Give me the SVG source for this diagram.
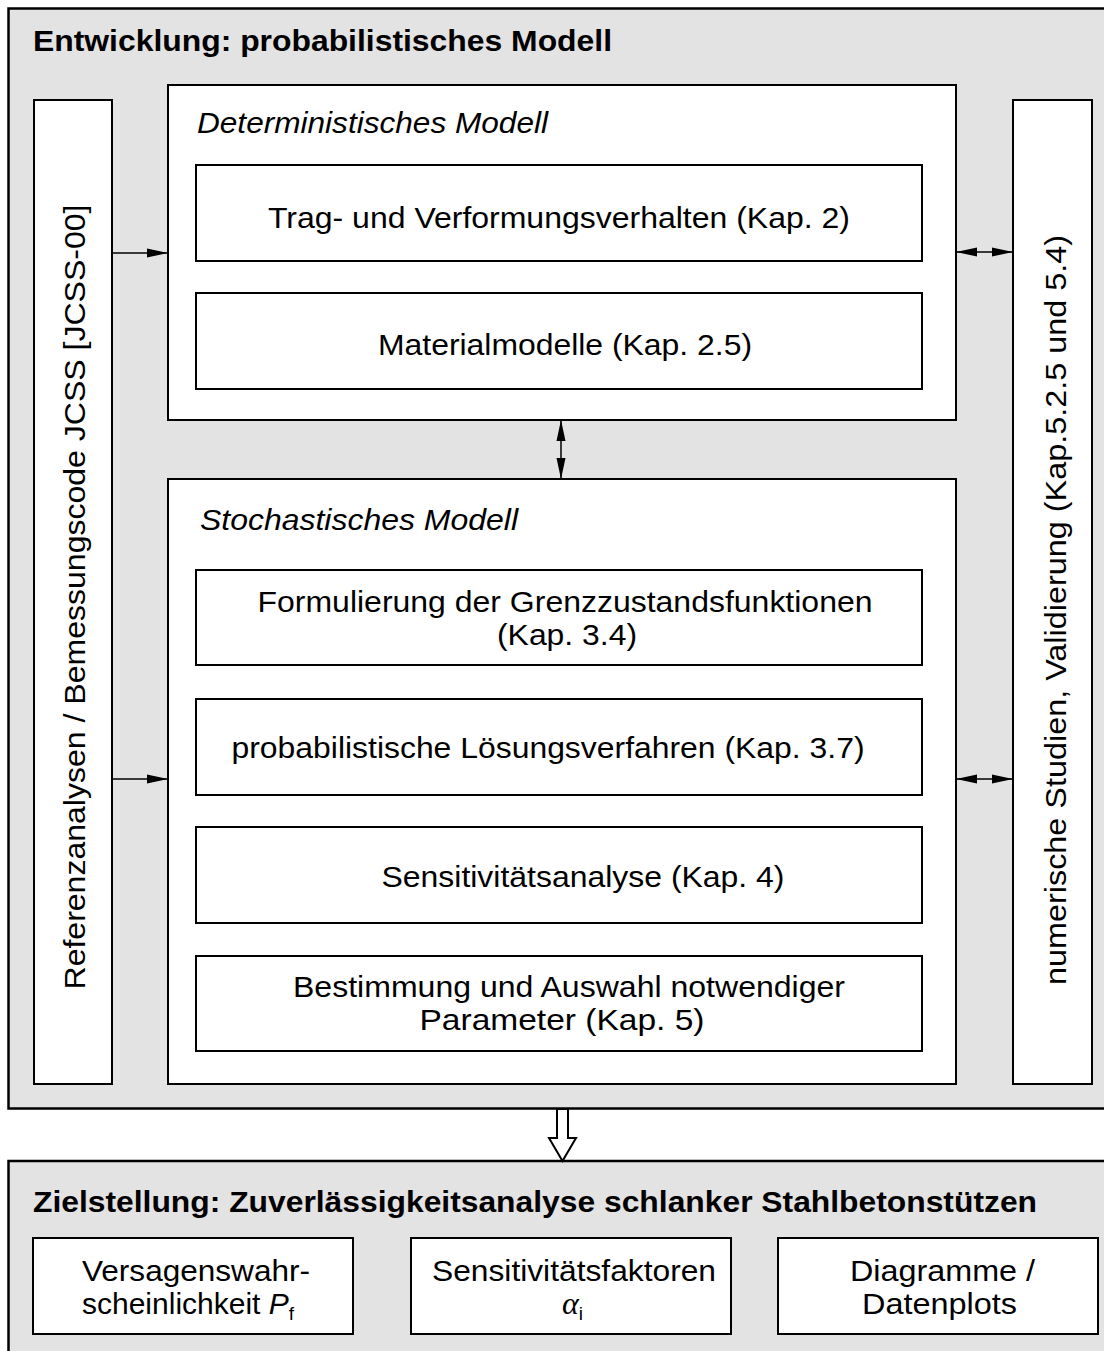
<svg xmlns="http://www.w3.org/2000/svg" width="1104" height="1351" viewBox="0 0 1104 1351">
<style>
.outer{fill:#e3e3e3;stroke:#000;stroke-width:2.5}
.box{fill:#fff;stroke:#000;stroke-width:2}
.gbox{fill:#fff;stroke:#000;stroke-width:2}
.t{font-family:"Liberation Sans",Arial,sans-serif;font-size:30px;fill:#000}
.tb{font-family:"Liberation Sans",Arial,sans-serif;font-size:30px;font-weight:bold;fill:#000}
.ti{font-family:"Liberation Sans",Arial,sans-serif;font-size:30px;font-style:italic;fill:#000}
.c{text-anchor:middle}
.ln{stroke:#000;stroke-width:1.5;fill:none}
</style>
<defs>
<marker id="ah" viewBox="0 0 21 10" refX="21" refY="5" markerWidth="21" markerHeight="10" markerUnits="userSpaceOnUse" orient="auto-start-reverse">
<path d="M0,0.5 L21,5 L0,9.5 Z" fill="#000"/>
</marker>
</defs>

<g id="entwicklung">
<rect class="outer" x="8.5" y="8.5" width="1110" height="1100"/>
<text class="tb" x="33" y="51" textLength="579" lengthAdjust="spacingAndGlyphs">Entwicklung: probabilistisches Modell</text>
</g>

<g id="referenz">
<rect class="box" x="34" y="100" width="78" height="984"/>
<text class="t" transform="translate(85,597) rotate(-90)" text-anchor="middle" textLength="785" lengthAdjust="spacingAndGlyphs">Referenzanalysen / Bemessungscode JCSS [JCSS-00]</text>
</g>

<g id="numerisch">
<rect class="box" x="1013" y="100" width="79" height="984"/>
<text class="t" transform="translate(1066,610) rotate(-90)" text-anchor="middle" textLength="750" lengthAdjust="spacingAndGlyphs">numerische Studien, Validierung (Kap.5.2.5 und 5.4)</text>
</g>

<g id="deterministisch">
<rect class="box" x="168" y="85" width="788" height="335"/>
<text class="ti" x="197" y="133" textLength="351" lengthAdjust="spacingAndGlyphs">Deterministisches Modell</text>
</g>

<g id="trag">
<rect class="gbox" x="196" y="165" width="726" height="96"/>
<text class="t c" x="559" y="228" textLength="582" lengthAdjust="spacingAndGlyphs">Trag- und Verformungsverhalten (Kap. 2)</text>
</g>

<g id="material">
<rect class="gbox" x="196" y="293" width="726" height="96"/>
<text class="t c" x="565" y="355" textLength="374" lengthAdjust="spacingAndGlyphs">Materialmodelle (Kap. 2.5)</text>
</g>

<g id="stochastisch">
<rect class="box" x="168" y="479" width="788" height="605"/>
<text class="ti" x="200" y="530" textLength="318" lengthAdjust="spacingAndGlyphs">Stochastisches Modell</text>
</g>

<g id="formulierung">
<rect class="gbox" x="196" y="570" width="726" height="95"/>
<text class="t c" x="565" y="612" textLength="615" lengthAdjust="spacingAndGlyphs">Formulierung der Grenzzustandsfunktionen</text>
<text class="t c" x="567" y="645" textLength="140" lengthAdjust="spacingAndGlyphs">(Kap. 3.4)</text>
</g>

<g id="loesung">
<rect class="gbox" x="196" y="699" width="726" height="96"/>
<text class="t c" x="548" y="758" textLength="633" lengthAdjust="spacingAndGlyphs">probabilistische Lösungsverfahren (Kap. 3.7)</text>
</g>

<g id="sensitivitaet">
<rect class="gbox" x="196" y="827" width="726" height="96"/>
<text class="t c" x="583" y="887" textLength="403" lengthAdjust="spacingAndGlyphs">Sensitivitätsanalyse (Kap. 4)</text>
</g>

<g id="bestimmung">
<rect class="gbox" x="196" y="956" width="726" height="95"/>
<text class="t c" x="569" y="997" textLength="552" lengthAdjust="spacingAndGlyphs">Bestimmung und Auswahl notwendiger</text>
<text class="t c" x="562" y="1030" textLength="285" lengthAdjust="spacingAndGlyphs">Parameter (Kap. 5)</text>
</g>

<g id="zielstellung">
<rect class="outer" x="8.5" y="1161" width="1110" height="220"/>
<text class="tb" x="33" y="1212" textLength="1004" lengthAdjust="spacingAndGlyphs">Zielstellung: Zuverlässigkeitsanalyse schlanker Stahlbetonstützen</text>
</g>

<g id="versagen">
<rect class="gbox" x="33" y="1238" width="320" height="96"/>
<text class="t" x="82" y="1281" textLength="228" lengthAdjust="spacingAndGlyphs">Versagenswahr-</text>
<text class="t" x="82" y="1314">scheinlichkeit <tspan font-style="italic">P</tspan><tspan font-size="19" dy="6">f</tspan></text>
</g>

<g id="faktoren">
<rect class="gbox" x="411" y="1238" width="320" height="96"/>
<text class="t" x="432" y="1281" textLength="284" lengthAdjust="spacingAndGlyphs">Sensitivitätsfaktoren</text>
<text class="t" x="562" y="1314"><tspan font-family="'Liberation Serif',serif" font-style="italic" font-size="32">α</tspan><tspan font-size="19" dy="6">i</tspan></text>
</g>

<g id="diagramme">
<rect class="gbox" x="778" y="1238" width="320" height="96"/>
<text class="t" x="850" y="1281" textLength="185" lengthAdjust="spacingAndGlyphs">Diagramme /</text>
<text class="t" x="862" y="1314" textLength="155" lengthAdjust="spacingAndGlyphs">Datenplots</text>
</g>

<g id="connectors">
<line class="ln" x1="112" y1="253" x2="168" y2="253" marker-end="url(#ah)"/>
<line class="ln" x1="112" y1="779" x2="168" y2="779" marker-end="url(#ah)"/>
<line class="ln" x1="956" y1="252" x2="1013" y2="252" marker-start="url(#ah)" marker-end="url(#ah)"/>
<line class="ln" x1="956" y1="779" x2="1013" y2="779" marker-start="url(#ah)" marker-end="url(#ah)"/>
<line class="ln" x1="561" y1="420" x2="561" y2="479" marker-start="url(#ah)" marker-end="url(#ah)"/>
<path d="M557,1109 L568,1109 L568,1138 L576,1138 L562.5,1161 L549,1138 L557,1138 Z" fill="#fff" stroke="#000" stroke-width="2"/>
</g>
</svg>
